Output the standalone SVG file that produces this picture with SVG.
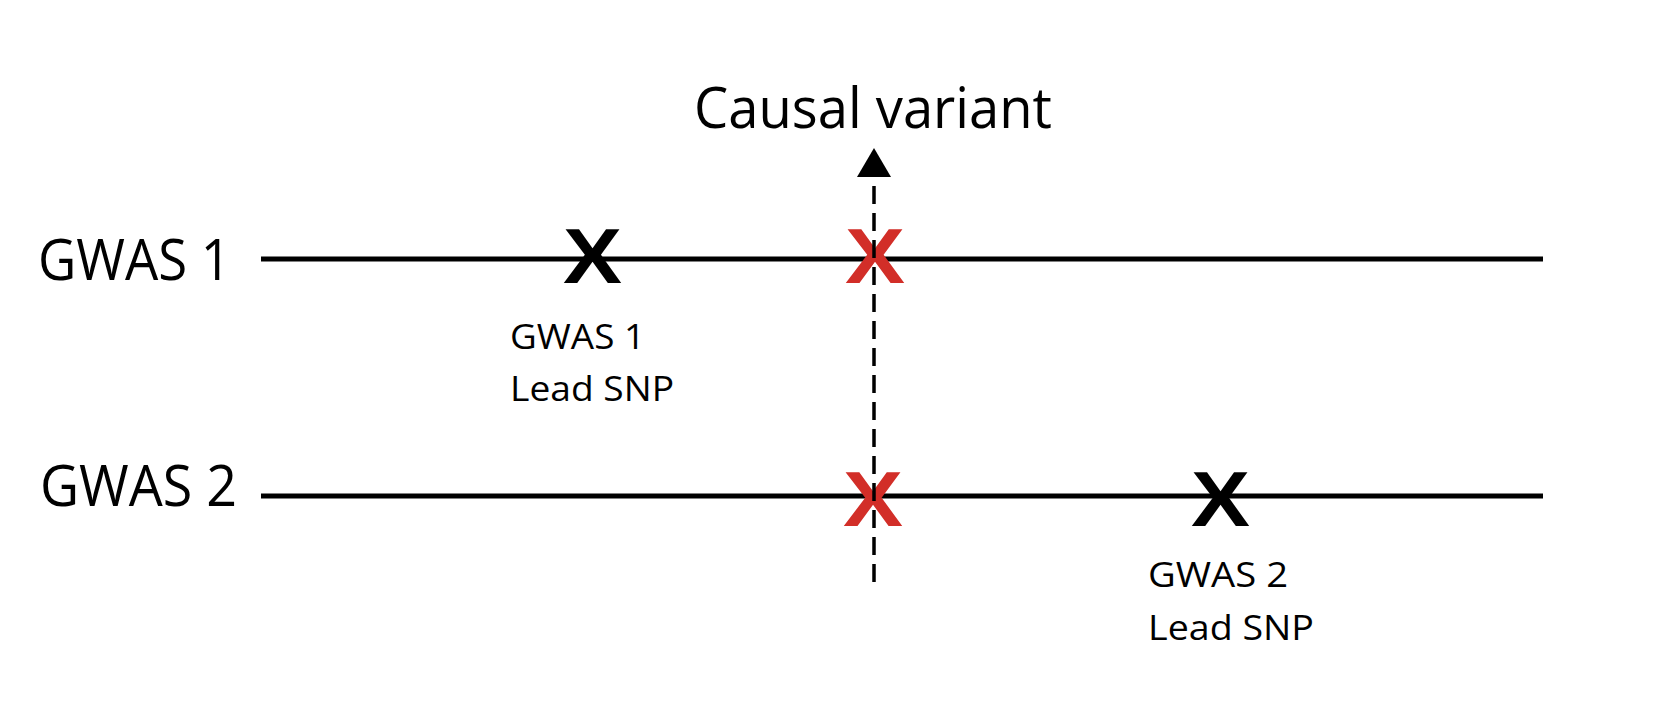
<svg xmlns="http://www.w3.org/2000/svg" width="1670" height="718" viewBox="0 0 1670 718">
<style>
.lbl{font-family:"Open Sans","Liberation Sans",sans-serif;fill:#000}
.big{font-size:56px}
.small{font-size:35px}
.mk{font-family:"Liberation Sans","Open Sans",sans-serif;font-weight:bold;font-size:78px;text-anchor:middle}
.track{stroke:#000;stroke-width:5;fill:none}
.dash{stroke:#000;stroke-width:3.5;stroke-dasharray:18 9;fill:none}
</style>
<rect width="1670" height="718" fill="#fff"/>
<g id="track1">
<line class="track" x1="261" y1="259" x2="1543" y2="259"/>
<text class="lbl big" x="38" y="280" textLength="193" lengthAdjust="spacingAndGlyphs">GWAS 1</text>
</g>
<g id="track2">
<line class="track" x1="261" y1="496" x2="1543" y2="496"/>
<text class="lbl big" x="40" y="506" textLength="197" lengthAdjust="spacingAndGlyphs">GWAS 2</text>
</g>
<g id="lead1">
<text class="mk" x="592.5" y="283" fill="#000" textLength="59" lengthAdjust="spacingAndGlyphs">X</text>
<text class="lbl small" x="510" y="349" textLength="135" lengthAdjust="spacingAndGlyphs">GWAS 1</text>
<text class="lbl small" x="510" y="401" textLength="164" lengthAdjust="spacingAndGlyphs">Lead SNP</text>
</g>
<g id="lead2">
<text class="mk" x="1220.5" y="526" fill="#000" textLength="59" lengthAdjust="spacingAndGlyphs">X</text>
<text class="lbl small" x="1148" y="587" textLength="140" lengthAdjust="spacingAndGlyphs">GWAS 2</text>
<text class="lbl small" x="1148" y="640" textLength="166" lengthAdjust="spacingAndGlyphs">Lead SNP</text>
</g>
<g id="causal1">
<text class="mk" x="875" y="283" fill="#d22e28" textLength="60" lengthAdjust="spacingAndGlyphs">X</text>
</g>
<g id="causal2">
<text class="mk" x="873" y="526" fill="#d22e28" textLength="60" lengthAdjust="spacingAndGlyphs">X</text>
</g>
<g id="connectors">
<line class="dash" x1="874" y1="582" x2="874" y2="176"/>
<polygon points="874,148 857,177 891,177" fill="#000"/>
</g>
<g id="causal-label">
<text class="lbl big" x="694" y="128" textLength="358" lengthAdjust="spacingAndGlyphs">Causal variant</text>
</g>
</svg>
